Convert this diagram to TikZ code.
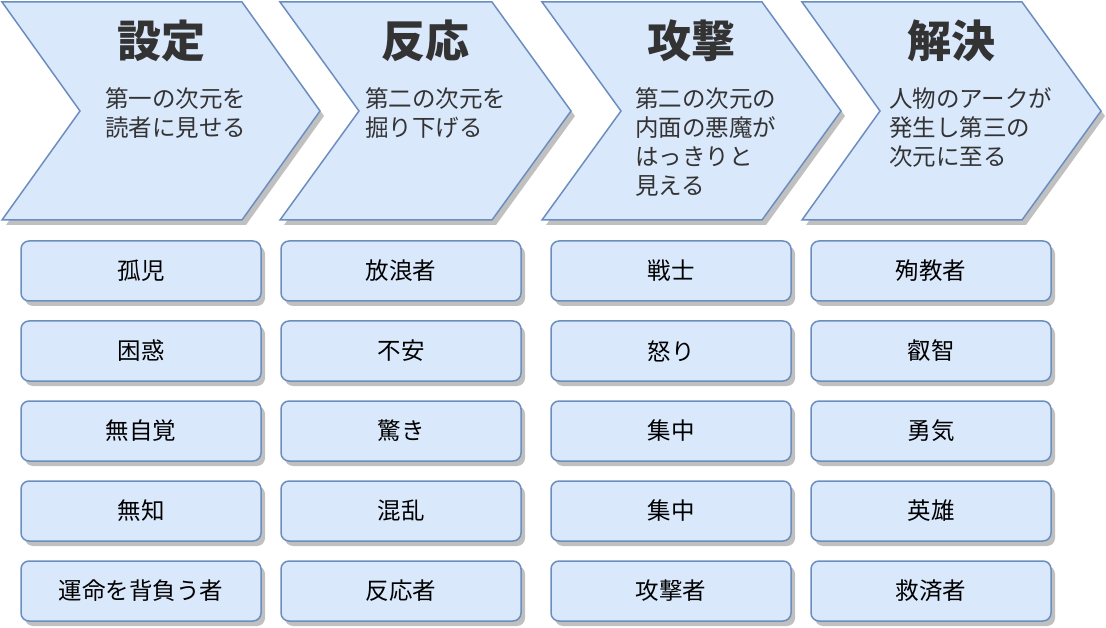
\documentclass[tikz,border=0pt]{standalone}
\usepackage{fontspec}
\setmainfont{Noto Sans CJK JP}
\usetikzlibrary{shadows}
\definecolor{fillc}{HTML}{DAE8FC}
\definecolor{strokec}{HTML}{6C8EBF}
\definecolor{shadowc}{HTML}{C0C0C0}
\definecolor{txt}{HTML}{333333}
\tikzset{
  myshadow/.style={drop shadow={shadow xshift=4pt, shadow yshift=-5pt, fill=shadowc, opacity=1}},
  chev/.style={fill=fillc, draw=strokec, line width=1.5pt, line join=miter, myshadow},
  ttl/.style={inner sep=0pt, text=txt, font=\fontsize{44}{50}\selectfont\bfseries},
  body/.style={inner sep=0pt, anchor=north west, align=left, text=txt, font=\fontsize{23.5}{29}\selectfont},
  item/.style={rectangle, rounded corners=8pt, fill=fillc, draw=strokec, line width=1.5pt,
    minimum width=240pt, minimum height=60pt, inner sep=0pt, text=black,
    font=\fontsize{23.5}{28}\selectfont, myshadow},
}
\newcommand\mychevron[4]{%
  \path[chev] (#1,2) -- (#2,2) -- (#3,111) -- (#2,220) -- (#1,220) -- (#4,111) -- cycle;}
\begin{document}
\begin{tikzpicture}[x=1pt,y=-1pt]
\useasboundingbox (0,0) rectangle (1106,628);
% chevrons
\mychevron{2}{242}{320}{80}
\mychevron{280}{492}{571}{359}
\mychevron{542}{762}{841}{621}
\mychevron{802}{1022}{1101}{880}
% titles
\node[ttl] (t1) at (161,41) {設定};
\node[ttl] (t2) at (425.5,41) {反応};
\node[ttl] (t3) at (691.5,41) {攻撃};
\node[ttl] (t4) at (951.5,41) {解決};
% descriptions
\node[body] (d1) at (105,87) {第一の次元を\\読者に見せる};
\node[body] (d2) at (365,87) {第二の次元を\\掘り下げる};
\node[body] (d3) at (635,87) {第二の次元の\\内面の悪魔が\\はっきりと\\見える};
\node[body] (d4) at (889,87) {人物のアークが\\発生し第三の\\次元に至る};
% column 1
\node[item] (a1) at (141,271) {孤児};
\node[item] (a2) at (141,351) {困惑};
\node[item] (a3) at (141,431) {無自覚};
\node[item] (a4) at (141,511) {無知};
\node[item] (a5) at (141,591) {運命を背負う者};
% column 2
\node[item] (b1) at (401,271) {放浪者};
\node[item] (b2) at (401,351) {不安};
\node[item] (b3) at (401,431) {驚き};
\node[item] (b4) at (401,511) {混乱};
\node[item] (b5) at (401,591) {反応者};
% column 3
\node[item] (c1) at (671,271) {戦士};
\node[item] (c2) at (671,351) {怒り};
\node[item] (c3) at (671,431) {集中};
\node[item] (c4) at (671,511) {集中};
\node[item] (c5) at (671,591) {攻撃者};
% column 4
\node[item] (e1) at (931,271) {殉教者};
\node[item] (e2) at (931,351) {叡智};
\node[item] (e3) at (931,431) {勇気};
\node[item] (e4) at (931,511) {英雄};
\node[item] (e5) at (931,591) {救済者};
\end{tikzpicture}
\end{document}
